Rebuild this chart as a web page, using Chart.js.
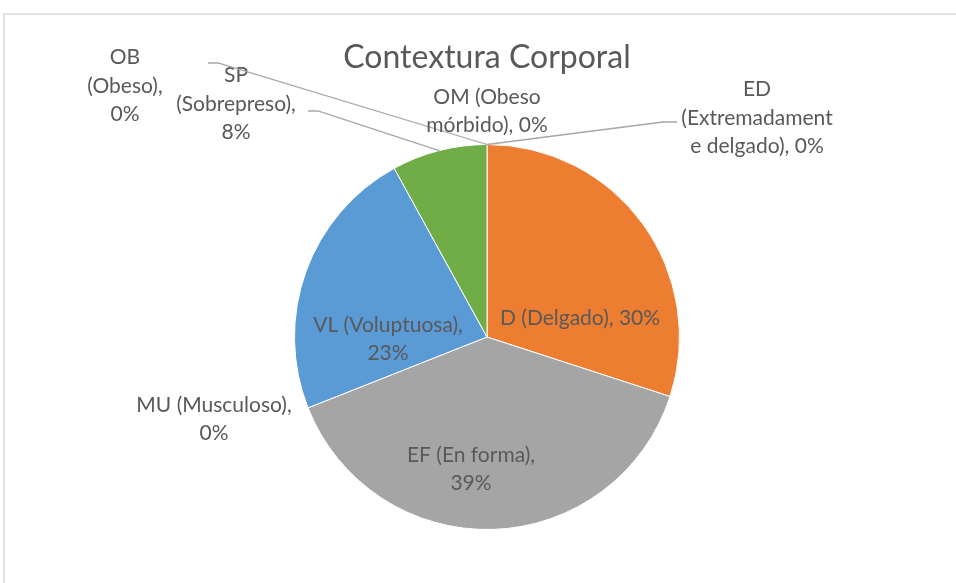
<!DOCTYPE html>
<html>
<head>
<meta charset="utf-8">
<script src="https://cdn.jsdelivr.net/npm/chart.js@4"></script>
<style>
  html, body { margin: 0; padding: 0; background: #fff; }
  #wrap { width: 956px; height: 583px; }
</style>
</head>
<body>
<div id="wrap"><canvas id="pieChart" width="956" height="583"></canvas></div>
<script>
const title = 'Contextura Corporal'
const categories = ['ED (Extremadamente delgado)', 'D (Delgado)', 'EF (En forma)', 'MU (Musculoso)',
    'VL (Voluptuosa)', 'SP (Sobrepreso)', 'OB (Obeso)', 'OM (Obeso mórbido)']
const values = [0, 30, 39, 0, 23, 8, 0, 0]
const sliceColors = ['#4472C4', '#ED7D31', '#A5A5A5', '#FFC000', '#5B9BD5', '#70AD47', '#255E91', '#9E480E']

// where each "name, value%" label wraps (character indexes)
const labelBreaks = [[2, 17], [], [14], [15], [16], [2, 16], [2, 11], [9]]
// label block centre, relative to the pie centre; elbow = where the leader line meets the label
const labelAt = [[270, -219], [93, -19], [-16, 132], [-273, 82], [-99, 2], [-251, -233], [-362, -251], [0, -226]]
const elbows = [[[190, -215], [176, -215]], null, null, null, null,
    [[-179, -226], [-169, -226]], [[-279, -274], [-269, -274]], null]

const textColor = '#595959'
const fontFamily = 'Lato, "Open Sans", sans-serif'
const labelSize = 21
const lineGap = 28.5

function labelLines(i){
    const text = categories[i] + ', ' + values[i] + '%'
    const lines = []
    let from = 0
    labelBreaks[i].forEach(b => { lines.push(text.slice(from, b).trim()); from = b })
    lines.push(text.slice(from).trim())
    return lines
}

const frame = {
    id: 'frame',
    beforeDraw(chart){
        const ctx = chart.ctx
        ctx.save()
        ctx.strokeStyle = '#D9D9D9'
        ctx.lineWidth = 1.5
        ctx.strokeRect(4, 14, 1000, 1000)
        ctx.fillStyle = textColor
        ctx.font = '32px ' + fontFamily
        ctx.textAlign = 'center'
        ctx.textBaseline = 'alphabetic'
        ctx.fillText(title, 487, 68)
        ctx.restore()
    }
}

const pieLabels = {
    id: 'pieLabels',
    afterDatasetsDraw(chart){
        const ctx = chart.ctx
        const arcs = chart.getDatasetMeta(0).data
        ctx.save()
        arcs.forEach((arc, i) => {
            const { x, y, startAngle, endAngle, outerRadius } = arc.getProps(['x', 'y', 'startAngle', 'endAngle', 'outerRadius'], true)
            if(elbows[i]){
                const mid = (startAngle + endAngle) / 2
                ctx.strokeStyle = '#A6A6A6'
                ctx.lineWidth = 1.3
                ctx.beginPath()
                ctx.moveTo(x + Math.cos(mid) * outerRadius, y + Math.sin(mid) * outerRadius)
                ctx.lineTo(x + elbows[i][1][0], y + elbows[i][1][1])
                ctx.lineTo(x + elbows[i][0][0], y + elbows[i][0][1])
                ctx.stroke()
            }
            const lines = labelLines(i)
            const cx = x + labelAt[i][0]
            const top = y + labelAt[i][1] - (lines.length - 1) * lineGap / 2
            ctx.fillStyle = textColor
            ctx.font = labelSize + 'px ' + fontFamily
            ctx.textAlign = 'center'
            ctx.textBaseline = 'alphabetic'
            lines.forEach((line, k) => {
                ctx.fillText(line, cx, top + k * lineGap + 6.8)
            })
        })
        ctx.restore()
    }
}

new Chart('pieChart', {
    type: 'pie',
    data: {
        labels: categories,
        datasets: [{
            data: values,
            backgroundColor: sliceColors,
            borderColor: '#ffffff',
            borderWidth: 1
        }]
    },
    options: {
        responsive: false,
        animation: false,
        events: [],
        layout: { padding: { top: 144, bottom: 53, left: 18, right: 0 } },
        plugins: {
            legend: { display: false },
            tooltip: { enabled: false },
            title: { display: false }
        }
    },
    plugins: [frame, pieLabels]
})
</script>
</body>
</html>
